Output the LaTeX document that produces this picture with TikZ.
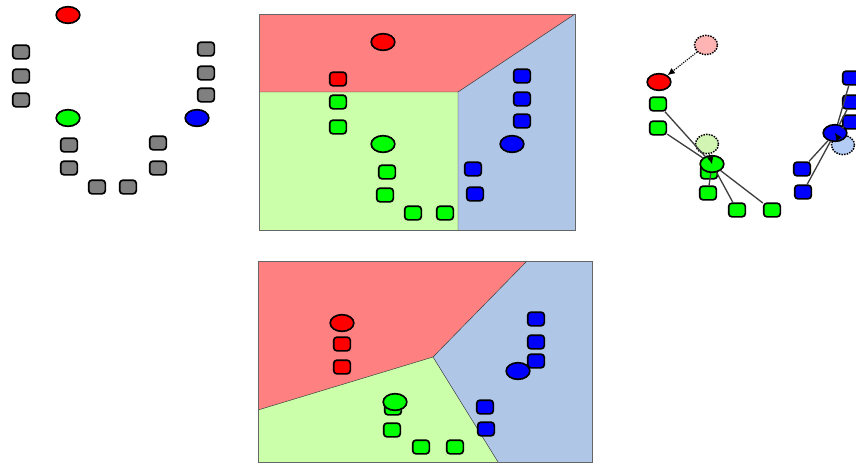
\documentclass[tikz,border=0pt]{standalone}
\usetikzlibrary{shapes.geometric,arrows.meta}

\definecolor{redzone}{RGB}{255,128,128}
\definecolor{greenzone}{RGB}{204,255,170}
\definecolor{bluezone}{RGB}{176,198,230}
\definecolor{oldred}{RGB}{255,180,180}
\definecolor{oldgreen}{RGB}{210,245,180}
\definecolor{oldblue}{RGB}{178,204,245}

\begin{document}
\begin{tikzpicture}[x=0.3mm, y=-0.3mm,
    pt/.style={draw, line width=0.5mm, rounded corners=1mm, minimum width=5mm, minimum height=4.1mm, inner sep=0pt},
    cen/.style={ellipse, draw, line width=0.5mm, minimum width=7.1mm, minimum height=5mm, inner sep=0pt},
    oldcen/.style={ellipse, draw, densely dotted, line width=0.45mm, minimum width=6.9mm, minimum height=5.8mm, inner sep=0pt},
    link/.style={draw=black!75, line width=0.4mm},
    move/.style={-{Latex[length=2.2mm,width=2mm]}}]
    \useasboundingbox (0,0) rectangle (856,464);

    % Step 1: points and first centroids
    \foreach \x/\y [count=\i] in {21/52, 21/76, 21/100, 206/49, 206/73, 206/95,
                                  69/145, 69/168, 97/187, 128/187, 158/143, 158/168}
        \node[pt, fill=gray] (a\i) at (\x,\y) {};
    \node[cen, fill=red] (ar) at (68,15) {};
    \node[cen, fill=green] (ag) at (68,118) {};
    \node[cen, fill=blue] (ab) at (197,118) {};

    % Step 2: regions
    \fill[redzone] (259,14) -- (575,14) -- (458,92) -- (259,92) -- cycle;
    \fill[greenzone] (259,92) -- (458,92) -- (458,230) -- (259,230) -- cycle;
    \fill[bluezone] (575,14) -- (575,230) -- (458,230) -- (458,92) -- cycle;
    \draw[black!80] (259,92) -- (458,92) -- (575,14) (458,92) -- (458,230);
    \draw[black!60] (259,14) rectangle (575,230);

    \node[pt, fill=red] (br1) at (338,79) {};
    \foreach \x/\y [count=\i] in {338/102, 338/127, 387/172, 385/195, 413/213, 445/213}
        \node[pt, fill=green] (bg\i) at (\x,\y) {};
    \foreach \x/\y [count=\i] in {522/76, 522/99, 522/121, 473/169, 475/194}
        \node[pt, fill=blue] (bb\i) at (\x,\y) {};
    \node[cen, fill=red] (br) at (383,42) {};
    \node[cen, fill=green] (bg) at (383,144) {};
    \node[cen, fill=blue] (bb) at (512,144) {};

    % Step 3: centroids move
    \node[oldcen, fill=oldred] (or) at (706,45) {};
    \node[oldcen, fill=oldgreen] (og) at (707,144) {};
    \node[oldcen, fill=oldblue] (ob) at (843,145) {};
    \foreach \x/\y [count=\i] in {658/104, 658/128, 709/172, 708/193, 737/210, 772/210}
        \node[pt, fill=green] (cg\i) at (\x,\y) {};
    \foreach \x/\y [count=\i] in {851/78, 851/102, 851/122, 802/169, 803/192}
        \node[pt, fill=blue] (cb\i) at (\x,\y) {};
    \node[cen, fill=red] (cr) at (659,82) {};
    \node[cen, fill=green] (cg) at (712,164) {};
    \node[cen, fill=blue] (cb) at (835,133) {};

    \foreach \i in {1,2,4,5,6}
        \draw[link] (cg\i) -- (cg);
    \foreach \i in {1,...,5}
        \draw[link] (cb\i) -- (cb);
    \draw[move, densely dotted, line width=0.35mm] (or) -- (cr);
    \draw[move] (og) -- (cg.center);
    \draw[move] (ob) -- (cb.center);

    % Step 4: new regions
    \fill[redzone] (258,261) -- (527,261) -- (433,357) -- (258,410) -- cycle;
    \fill[greenzone] (258,410) -- (433,357) -- (498,462) -- (258,462) -- cycle;
    \fill[bluezone] (527,261) -- (592,261) -- (592,462) -- (498,462) -- (433,357) -- cycle;
    \draw[black!80] (258,410) -- (433,357) -- (527,261) (433,357) -- (498,462);
    \draw[black!60] (258,261) rectangle (592,462);

    \foreach \x/\y [count=\i] in {342/344, 342/367}
        \node[pt, fill=red] (dr\i) at (\x,\y) {};
    \foreach \x/\y [count=\i] in {393/408, 392/430, 421/447, 455/447}
        \node[pt, fill=green] (dg\i) at (\x,\y) {};
    \foreach \x/\y [count=\i] in {536/319, 536/342, 536/361, 485/407, 486/429}
        \node[pt, fill=blue] (db\i) at (\x,\y) {};
    \node[cen, fill=red] (dr) at (342,323) {};
    \node[cen, fill=green] (dg) at (395,402) {};
    \node[cen, fill=blue] (db) at (518,371) {};

\end{tikzpicture}
\end{document}
